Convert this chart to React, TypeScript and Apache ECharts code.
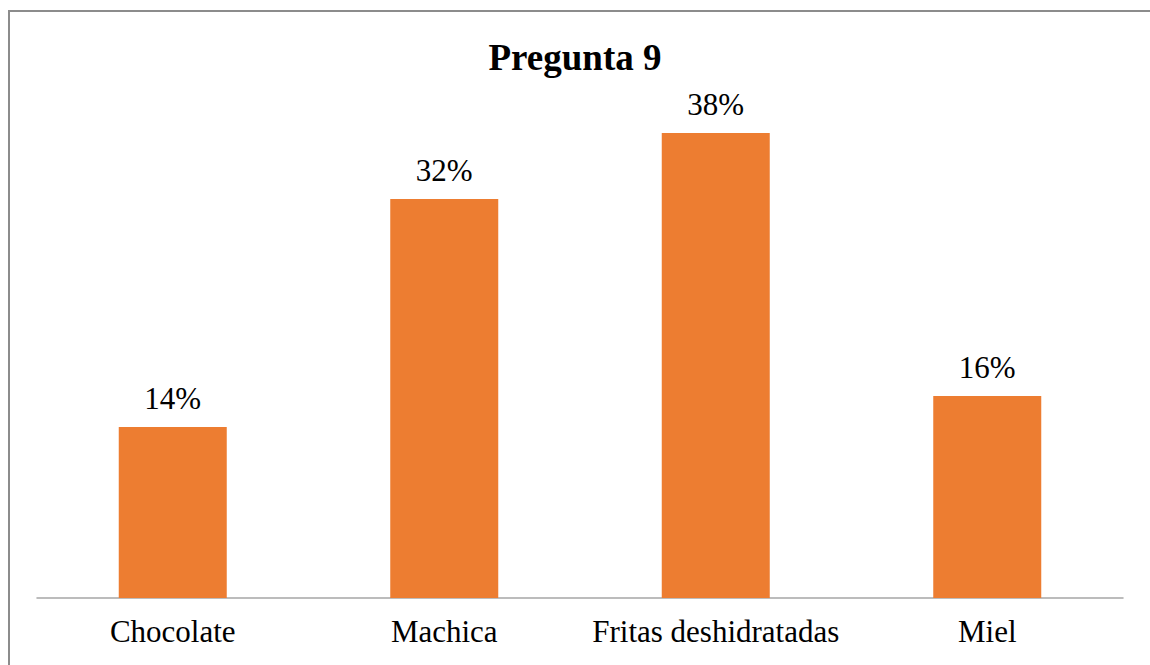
import React, { useEffect, useRef } from "react";
import * as echarts from "echarts";

const categories = ["Chocolate", "Machica", "Fritas deshidratadas", "Miel"];
const values = [13.85, 32.3, 37.65, 16.35];
const titleText = "Pregunta 9";

export default function App() {
  const ref = useRef<HTMLDivElement>(null);
  useEffect(() => {
    if (!ref.current) return;
    const chart = echarts.init(ref.current, null, { renderer: "svg" });
    const font = "Liberation Serif";
    chart.setOption({
      animation: false,
      backgroundColor: "#ffffff",
      title: {
        text: titleText,
        left: "center",
        top: 34,
        textStyle: { fontFamily: font, fontWeight: "bold", fontSize: 37, color: "#000" },
      },
      graphic: [
        {
          type: "rect",
          silent: true,
          shape: { x: 9, y: 11, width: 1160, height: 700 },
          style: { fill: "none", stroke: "#8c8c8c", lineWidth: 2 },
          z: 100,
        },
      ],
      grid: { left: 37, right: 27, top: 104, bottom: 67 },
      xAxis: {
        type: "category",
        data: categories,
        axisLine: { lineStyle: { color: "#a6a6a6", width: 1.5 } },
        axisTick: { show: false },
        axisLabel: { fontFamily: font, fontSize: 31, color: "#000", margin: 18, interval: 0 },
      },
      yAxis: {
        type: "value",
        min: 0,
        max: 40,
        show: false,
        splitLine: { show: false },
      },
      series: [
        {
          type: "bar",
          data: values,
          barWidth: 108,
          itemStyle: { color: "#ED7D31" },
          label: {
            show: true,
            position: "top",
            distance: 13,
            fontFamily: font,
            fontSize: 31,
            color: "#000",
            formatter: (p: any) => Math.round(p.value) + "%",
          },
        },
      ],
    });
    return () => chart.dispose();
  }, []);
  return (
    <div
      ref={ref}
      style={{ position: "fixed", left: 0, top: 0, width: 1150, height: 665 }}
    />
  );
}
